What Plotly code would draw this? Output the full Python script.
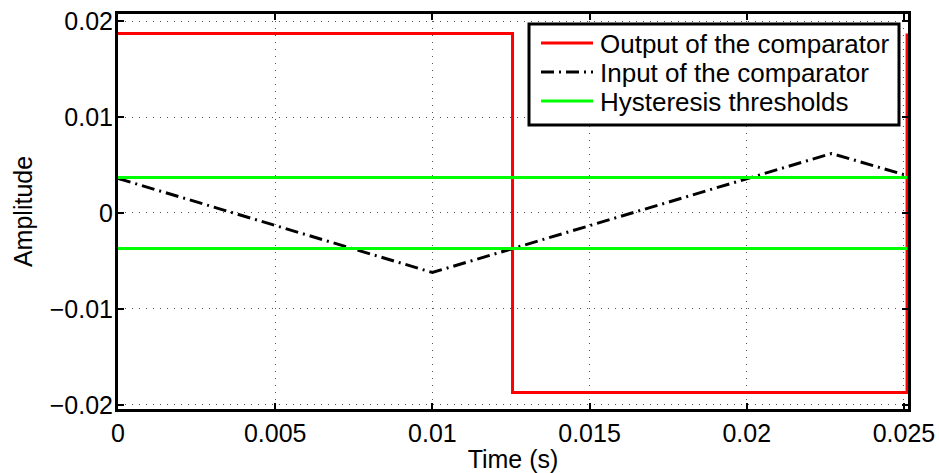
import plotly.graph_objects as go

# Output of the comparator (square wave)
out_t = [0, 0.01255, 0.01255, 0.0251, 0.0251]
out_v = [0.0187, 0.0187, -0.0187, -0.0187, 0.0187]

# Input of the comparator (triangle)
in_t = [0, 0.01, 0.0227, 0.0251]
in_v = [0.0036, -0.0062, 0.0062, 0.0039]

# Hysteresis thresholds
thr_t = [0, 0.0251, None, 0, 0.0251]
thr_v = [0.0037, 0.0037, None, -0.0037, -0.0037]

series_names = ["Output of the comparator", "Input of the comparator", "Hysteresis thresholds"]

x_ticks = [0, 0.005, 0.01, 0.015, 0.02, 0.025]
x_labels = ["0", "0.005", "0.01", "0.015", "0.02", "0.025"]
y_ticks = [-0.02, -0.01, 0, 0.01, 0.02]
y_labels = ["\u22120.02", "\u22120.01", "0", "0.01", "0.02"]

FONT = "Liberation Sans, Arial, Helvetica, sans-serif"
W, H = 939, 473
ML, MR, MT, MB = 118, 31, 14, 64
PW, PH = W - ML - MR, H - MT - MB

styles = [
    dict(color="#ff0000", width=3),
    dict(color="#000000", width=3, dash="13px,5px,2px,5px"),
    dict(color="#00ff00", width=3),
]

fig = go.Figure()
for (t, v), name, st in zip([(out_t, out_v), (in_t, in_v), (thr_t, thr_v)], series_names, styles):
    fig.add_trace(go.Scatter(x=t, y=v, mode="lines", name=name, line=st, showlegend=False))

axis_common = dict(
    showline=True, linecolor="black", linewidth=3, mirror="allticks",
    ticks="inside", ticklen=6, tickwidth=2, tickcolor="black",
    showgrid=True, gridcolor="#555555", gridwidth=1, griddash="1px,6px",
    zeroline=False, automargin=False,
    tickfont=dict(size=25, color="black", family=FONT),
)

# Legend drawn in paper coordinates (pixel helpers)
def px(x):
    return (x - ML) / PW

def py(y):
    return 1 - (y - MT) / PH

shapes = [dict(type="rect", xref="paper", yref="paper",
               x0=px(529), x1=px(899), y0=py(125), y1=py(24),
               line=dict(color="black", width=3), fillcolor="white", layer="above")]
annotations = []
rows = [43, 72, 101]
for name, st, ry in zip(series_names, styles, rows):
    shapes.append(dict(type="line", xref="paper", yref="paper",
                       x0=px(541), x1=px(593), y0=py(ry), y1=py(ry),
                       line=st, layer="above"))
    annotations.append(dict(xref="paper", yref="paper", x=px(598), y=py(ry + 1),
                            xanchor="left", yanchor="middle", showarrow=False,
                            text=name, font=dict(size=26, color="black", family=FONT)))

fig.update_layout(
    width=W, height=H,
    margin=dict(l=ML, r=MR, t=MT, b=MB),
    paper_bgcolor="white", plot_bgcolor="white",
    font=dict(family=FONT, size=25, color="black"),
    xaxis=dict(range=[0, 0.02513], tickvals=x_ticks, ticktext=x_labels,
               title=dict(text="Time (s)", standoff=3, font=dict(size=25)), **axis_common),
    yaxis=dict(range=[-0.02042, 0.02073], tickvals=y_ticks, ticktext=y_labels,
               ticklabelstandoff=-3,
               title=dict(text="Amplitude", standoff=10, font=dict(size=25)), **axis_common),
    shapes=shapes,
    annotations=annotations,
    showlegend=False,
)

fig.write_html("out.html")
